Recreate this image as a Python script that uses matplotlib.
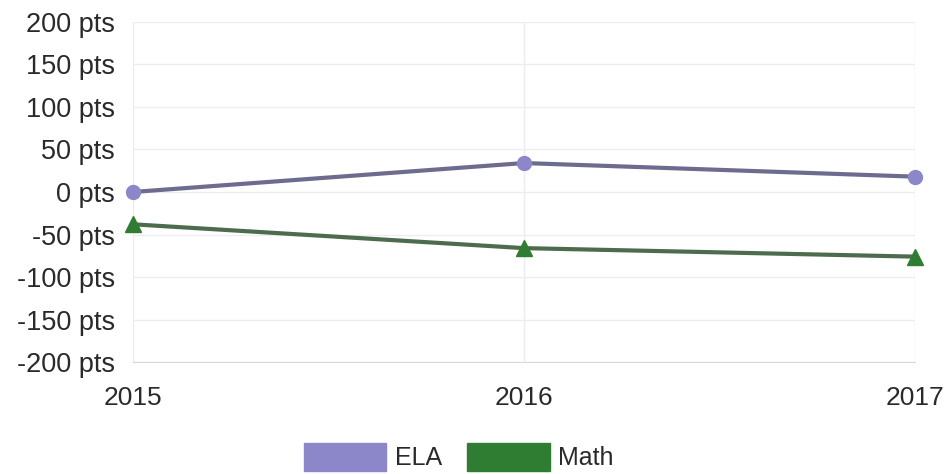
import matplotlib.pyplot as plt
from matplotlib.patches import Patch

plt.rcParams['font.family'] = ['Liberation Sans', 'DejaVu Sans']

years = [2015, 2016, 2017]
ela = [0, 34, 18]
math = [-38, -66, -76]
yticks = [-200, -150, -100, -50, 0, 50, 100, 150, 200]

ela_fill = '#8c87c9'
ela_line = '#6e6c8e'
math_fill = '#2f7d32'
math_line = '#4d6b4d'

fig = plt.figure(figsize=(9.5, 4.74), dpi=100)
ax = fig.add_axes([0.14, 0.236, 0.823, 0.718])

ax.plot(years, ela, color=ela_line, lw=3, marker='o', ms=10,
        mfc=ela_fill, mec=ela_fill, zorder=3, clip_on=False)
ax.plot(years, math, color=math_line, lw=3, marker='^', ms=11,
        mfc=math_fill, mec=math_fill, zorder=3, clip_on=False)

ax.set_xlim(2015, 2017)
ax.set_ylim(-200, 200)
ax.set_xticks(years)
ax.set_yticks(yticks)
ax.set_yticklabels([f'{v} pts' for v in yticks])
ax.tick_params(axis='y', length=0, pad=13, labelsize=19.5, labelcolor='#2a2a2a')
ax.tick_params(axis='x', length=0, pad=17, labelsize=19, labelcolor='#2a2a2a')

ax.grid(True, color='#ececf2', lw=1)
for s in ['top', 'right', 'left']:
    ax.spines[s].set_visible(False)
ax.spines['bottom'].set_color('#d8d8de')

handles = [Patch(facecolor=ela_fill, edgecolor=ela_fill, label='ELA'),
           Patch(facecolor=math_fill, edgecolor=math_fill, label='Math')]
fig.legend(handles=handles, loc='center', bbox_to_anchor=(0.483, 0.036), ncol=2,
           frameon=False, handlelength=3.3, handleheight=1.35, fontsize=18,
           columnspacing=1.0, handletextpad=0.35, labelcolor='#2a2a2a',
           borderpad=0, borderaxespad=0)

fig.savefig('out.png', dpi=100)
